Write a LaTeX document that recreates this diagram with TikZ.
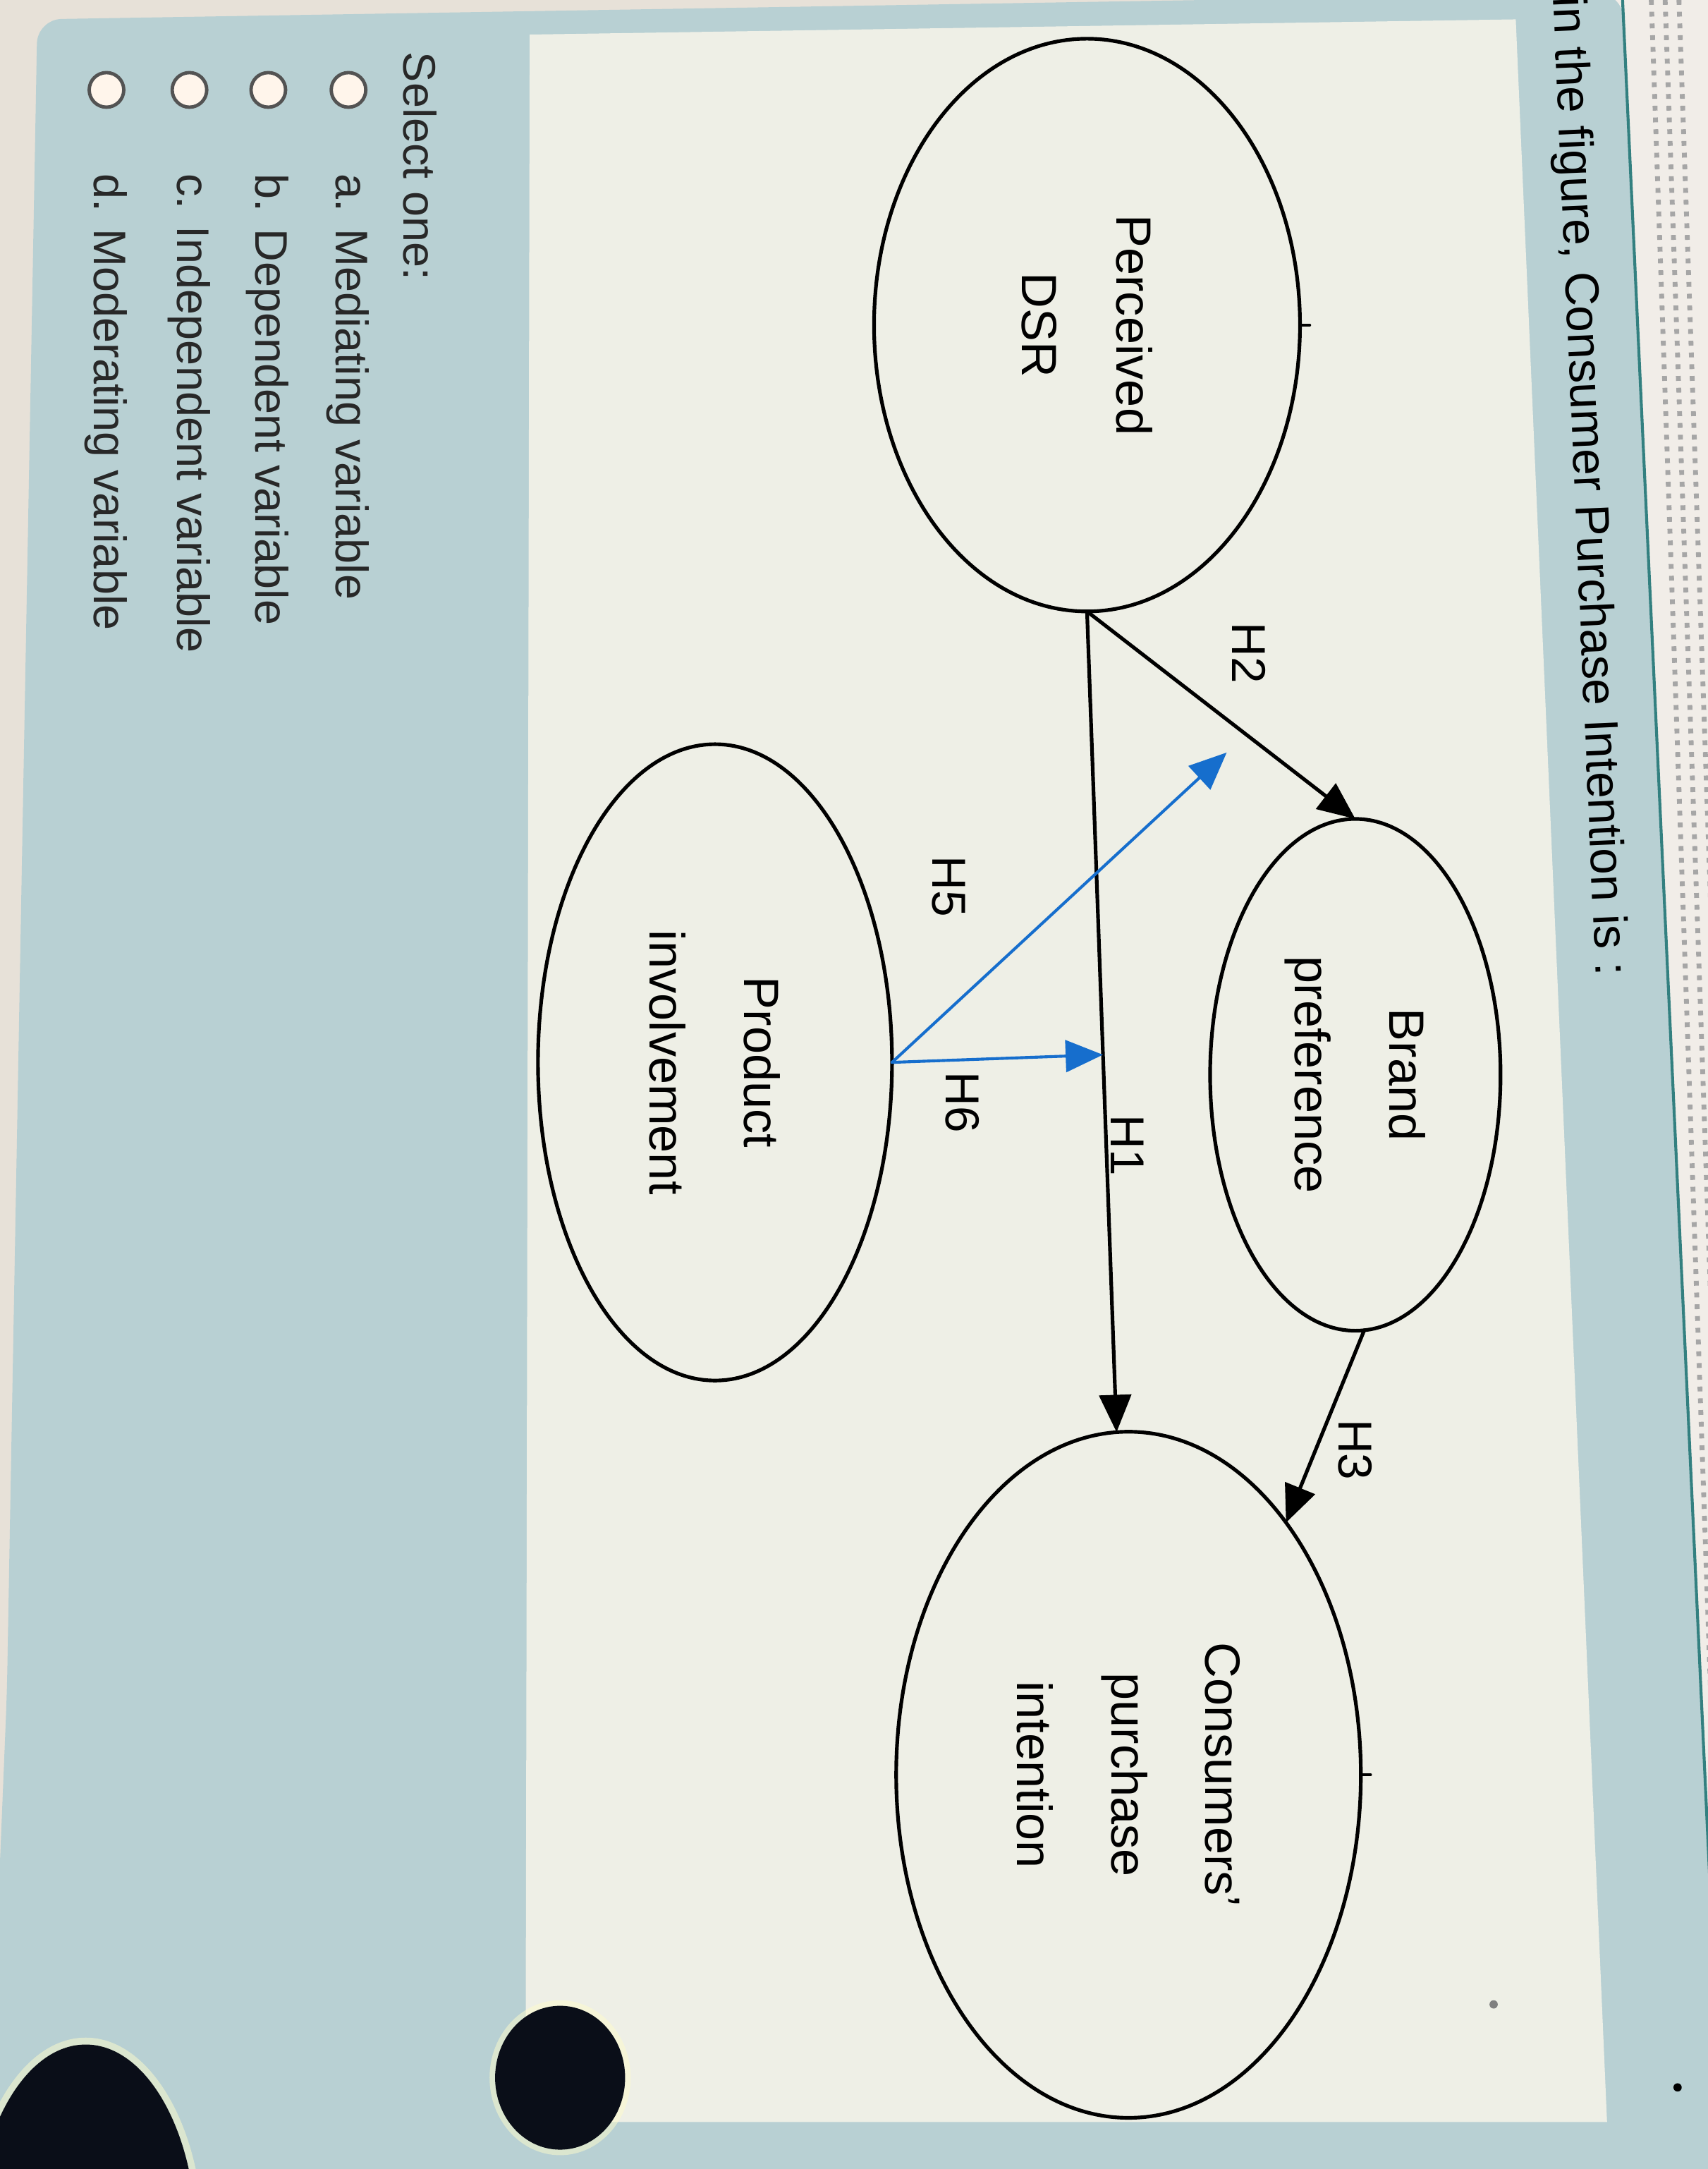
\documentclass[tikz,border=0pt]{standalone}
\usepackage{fontspec}
\setmainfont{Liberation Sans}
\usetikzlibrary{shapes.geometric,arrows.meta,calc}

\begin{document}
\begin{tikzpicture}[line cap=round, line join=round]

    \definecolor{margin}{RGB}{231,225,216}
    \definecolor{card}{RGB}{184,208,211}
    \definecolor{panel}{RGB}{238,239,230}
    \definecolor{strip}{RGB}{241,237,232}
    \definecolor{hblue}{RGB}{22,110,205}
    \definecolor{ink}{RGB}{40,40,40}
    \definecolor{blob}{RGB}{10,14,24}

    \useasboundingbox (0,0) rectangle (12.35,-15.68);
    \clip (0,0) rectangle (12.35,-15.68);

    % screen behind the question card
    \fill[margin] (0,0) rectangle (12.35,-15.68);
    \fill[strip] (11.6,0.1) rectangle (12.4,-15.8);
    \foreach \dx in {11.94,12.04,12.14}
      \draw[gray!70, line width=0.35mm, line cap=butt, dash pattern=on 0.35mm off 0.5mm]
        (\dx,0) -- ++(0.55,-15.68);
    \fill[card, rounded corners=5pt] (0.27,-0.14) -- (11.73,0.05) -- (12.47,-15.9)
      -- (-0.1,-15.9) -- (0.05,-12.24) -- (0.17,-5.6) -- cycle;
    \draw[teal!60!gray, line width=0.6pt] (11.73,0.05) -- (12.47,-15.9);
    \fill[panel] (3.83,-0.25) -- (10.96,-0.14) -- (11.62,-15.34) -- (3.80,-15.34) -- cycle;

    \tikzset{
      var/.style={
        ellipse, draw, line width=0.75pt, inner sep=0pt, outer sep=0pt,
        rotate=-90, align=center, font=\fontsize{10.2}{19.4}\selectfont
      },
      hyp/.style={-{Triangle[length=2.7mm, width=2.3mm]}, line width=0.75pt},
      modarrow/.style={hyp, color=hblue, line width=0.6pt},
      hlabel/.style={rotate=-90, inner sep=0pt, font=\fontsize{9.8}{12}\selectfont},
      radio/.style={
        circle, draw=ink!80, fill=white!92!orange, line width=0.7pt,
        minimum size=2.5mm, inner sep=0pt
      },
      choice/.style={
        rotate=-90, anchor=base west, inner sep=0pt, text=ink,
        font=\fontsize{9.4}{12}\selectfont
      }
    }

    % question
    \node[rotate=-87.5, anchor=west, inner sep=0pt, font=\fontsize{9.8}{12}\selectfont]
      (question) at (11.32,0.03) {in the figure, Consumer Purchase Intention is :};

    % model
    \node[var, minimum width=4.14cm, minimum height=3.08cm] (dsr) at (7.86,-2.35) {Perceived\\DSR};
    \node[var, minimum width=3.70cm, minimum height=2.10cm] (bp) at (9.80,-7.77) {Brand\\preference};
    \node[var, minimum width=4.96cm, minimum height=3.36cm] (cpi) at (8.16,-12.83) {Consumers'\\purchase\\intention};
    \node[var, minimum width=4.60cm, minimum height=2.56cm] (pi) at (5.17,-7.68) {Product\\involvement};

    \draw[line width=0.6pt] (dsr.north) -- ++(0.07,0);
    \draw[line width=0.6pt] (cpi.north) -- ++(0.07,0);

    \coordinate (h5tip) at (8.87,-5.44);
    \coordinate (h6end) at ($(dsr.east)!(pi.north)!(cpi.182.5)$);

    \draw[hyp] (dsr.east) -- (cpi.182.5);
    \draw[hyp] (dsr.east) -- (bp.west);
    \draw[hyp] (bp.2.5) -- (cpi.148);
    \draw[modarrow] (pi.north) -- (h5tip);
    \draw[modarrow] (pi.north) -- (h6end);

    \node[hlabel] (h1) at (8.15,-8.28) {H1};
    \node[hlabel] (h2) at (9.03,-4.72) {H2};
    \node[hlabel] (h3) at (9.80,-10.48) {H3};
    \node[hlabel] (h5) at (6.86,-6.41) {H5};
    \node[hlabel] (h6) at (6.96,-7.97) {H6};

    % answers
    \node[choice] (select) at (2.92,-0.37) {Select one:};
    \foreach \name/\bx/\rx/\txt in {a/2.43/2.52/a. Mediating variable,
        b/1.85/1.94/b. Dependent variable, c/1.28/1.37/c. Independent variable,
        d/0.68/0.77/d. Moderating variable} {
      \node[radio] (r\name) at (\rx,-0.65) {};
      \node[choice] (o\name) at (\bx,-1.25) {\txt};
    }

    % dark spots on the photo
    \fill[yellow!20!white, opacity=0.5] (4.05,-15.02) ellipse [x radius=0.51, y radius=0.56];
    \fill[blob] (4.05,-15.02) ellipse [x radius=0.47, y radius=0.52];
    \fill[yellow!20!white, opacity=0.5] (0.62,-16.2) ellipse [x radius=0.85, y radius=1.47];
    \fill[blob] (0.62,-16.2) ellipse [x radius=0.80, y radius=1.42];
    \fill[black] (12.13,-15.09) circle (0.03);
    \fill[gray] (10.80,-14.49) circle (0.03);

\end{tikzpicture}
\end{document}
